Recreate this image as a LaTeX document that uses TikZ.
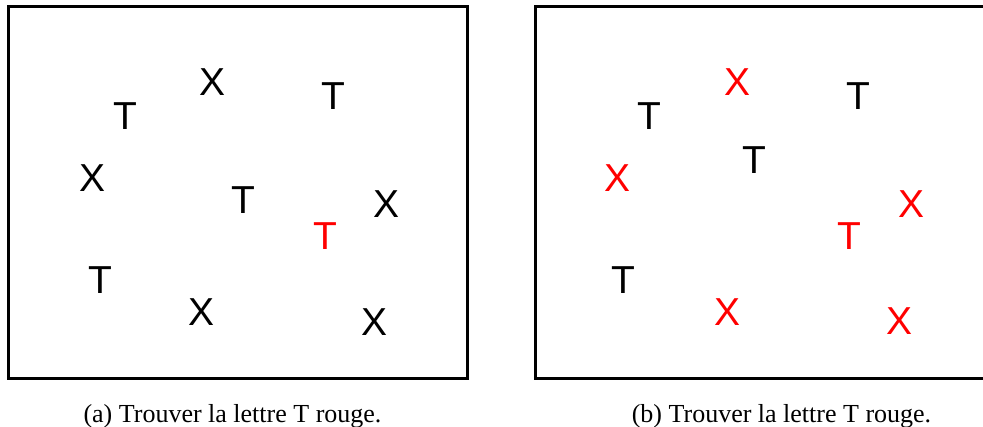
\documentclass[tikz,border=0pt]{standalone}
\usepackage{fontspec}
\setmainfont{Liberation Serif}
\newfontfamily\lettersans{Liberation Sans}
\definecolor{pured}{RGB}{255,0,0}
\tikzset{
  frame/.style={draw=black, line width=2.8pt},
  letter/.style={inner sep=0pt, anchor=center, font=\lettersans\fontsize{39}{39}\selectfont},
  hit/.style={letter, text=pured},
  caption/.style={inner sep=0pt, anchor=base, font=\fontsize{26}{26}\selectfont}
}
\begin{document}
\begin{tikzpicture}[x=1pt,y=-1pt]
\useasboundingbox (0,0) rectangle (983,427);
\clip (0,0) rectangle (983,427);
% left panel
\node[frame, minimum width=459pt, minimum height=372pt, inner sep=0pt] (boxa) at (238.3,192.2) {};
\node[letter] (a1) at (125,116) {T};
\node[letter] (a2) at (213,82.5) {X};
\node[letter] (a3) at (333.5,96.5) {T};
\node[letter] (a4) at (92.7,178) {X};
\node[letter] (a5) at (243,200.5) {T};
\node[letter] (a6) at (387,204) {X};
\node[hit] (a7) at (325,236) {T};
\node[letter] (a8) at (100,280.5) {T};
\node[letter] (a9) at (202,312) {X};
\node[letter] (a10) at (375,322) {X};
\node[caption] (capa) at (232.5,423) {(a) Trouver la lettre T rouge.};
% right panel
\node[frame, minimum width=480pt, minimum height=372pt, inner sep=0pt] (boxb) at (775.7,192.2) {};
\node[letter] (b1) at (649.5,116) {T};
\node[hit] (b2) at (737,82.5) {X};
\node[letter] (b3) at (858,96.5) {T};
\node[letter] (b4) at (754,160.5) {T};
\node[hit] (b5) at (618,178) {X};
\node[hit] (b6) at (911,204) {X};
\node[hit] (b7) at (849.5,236) {T};
\node[letter] (b8) at (623.5,280.5) {T};
\node[hit] (b9) at (727,312.5) {X};
\node[hit] (b10) at (899.5,321.5) {X};
\node[caption] (capb) at (781.5,423) {(b) Trouver la lettre T rouge.};
\end{tikzpicture}
\end{document}
